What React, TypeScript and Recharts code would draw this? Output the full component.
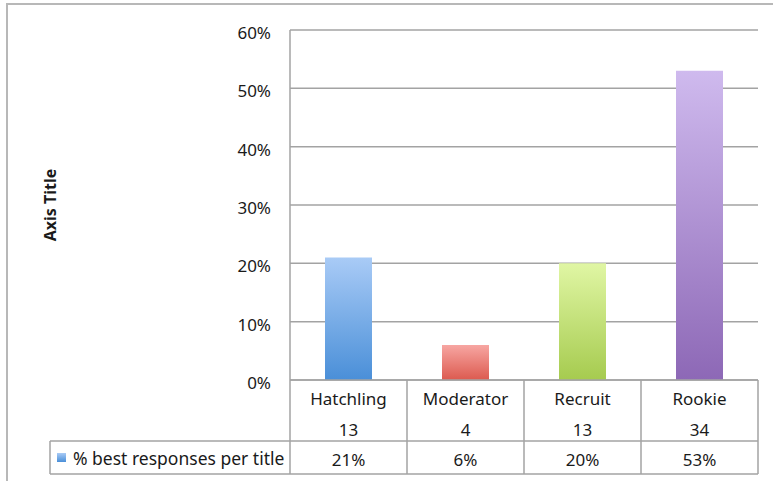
import { Bar, BarChart, CartesianGrid, Cell, XAxis, YAxis } from "recharts";

const categories = ["Hatchling", "Moderator", "Recruit", "Rookie"];
const counts = [13, 4, 13, 34];
const shares = [21, 6, 20, 53];
const seriesName = "% best responses per title";
const yTicks = [0, 10, 20, 30, 40, 50, 60];

const data = categories.map((name, i) => ({ name, count: counts[i], share: shares[i] }));

// top / bottom colours of each bar's gradient
const barColors = [
  ["#a9cbf6", "#4a8fd8"],
  ["#f7a6a2", "#dc5a4f"],
  ["#e0f6a4", "#a6cb4f"],
  ["#cfbaee", "#8d68b6"]
];

const W = 773;
const H = 481;
const margin = { top: 30, right: 15, bottom: 7, left: 20 };
const plotLeft = 290;
const band = (W - margin.right - plotLeft) / categories.length;
const lineColor = "#a3a3a3";
const font = "'Noto Sans', sans-serif";
const fs = 17;

function TableTick(props: any) {
  const { x, y, payload } = props;
  const i = payload.index;
  const row = data[i];
  const left = x - band / 2;
  const right = x + band / 2;
  return (
    <g fontFamily={font} fontSize={fs} fill="#1a1a1a">
      {i === 0 && (
        <g>
          <line x1={left} x2={left} y1={y} y2={y + 94} stroke={lineColor} strokeWidth={1.5} />
          <line x1={50} x2={left} y1={y + 61} y2={y + 61} stroke={lineColor} strokeWidth={1.5} />
          <line x1={50} x2={left} y1={y + 94} y2={y + 94} stroke={lineColor} strokeWidth={1.5} />
          <line x1={50} x2={50} y1={y + 61} y2={y + 94} stroke={lineColor} strokeWidth={1.5} />
          <rect x={57} y={y + 73} width={9} height={9} fill="url(#legendGrad)" />
          <text x={73} y={y + 78} dominantBaseline="central" fontSize={17.5} fill="#1a1a1a">
            {seriesName}
          </text>
        </g>
      )}
      <line x1={right} x2={right} y1={y} y2={y + 94} stroke={lineColor} strokeWidth={1.5} />
      <line x1={left} x2={right} y1={y + 61} y2={y + 61} stroke={lineColor} strokeWidth={1.5} />
      <line x1={left} x2={right} y1={y + 94} y2={y + 94} stroke={lineColor} strokeWidth={1.5} />
      <text x={x} y={y + 18} textAnchor="middle" dominantBaseline="central">
        {row.name}
      </text>
      <text x={x} y={y + 49} textAnchor="middle" dominantBaseline="central">
        {row.count}
      </text>
      <text x={x} y={y + 79} textAnchor="middle" dominantBaseline="central">
        {row.share}%
      </text>
    </g>
  );
}

function AxisTitle(props: any) {
  const vb = props.viewBox || {};
  const cy = (vb.y ?? 30) + (vb.height ?? 350) / 2;
  const cx = 50;
  return (
    <text
      x={cx}
      y={cy}
      transform={`rotate(-90 ${cx} ${cy})`}
      textAnchor="middle"
      dominantBaseline="central"
      fontFamily={font}
      fontSize={16}
      fontWeight="bold"
      fill="#1a1a1a"
    >
      Axis Title
    </text>
  );
}

export default function App() {
  return (
    <div style={{ position: "absolute", left: 0, top: 0, width: W, height: H, background: "#fff" }}>
      <div
        style={{
          position: "absolute",
          left: 6,
          top: 3,
          right: 0,
          bottom: 0,
          borderTop: "2px solid #b8b8b8",
          borderLeft: "2px solid #b8b8b8"
        }}
      />
      <div style={{ position: "absolute", left: 0, top: 0 }}>
        <BarChart width={W} height={H} data={data} margin={margin}>
          <defs>
            {barColors.map(([top, bottom], i) => (
              <linearGradient key={i} id={`barGrad${i}`} x1="0" y1="0" x2="0" y2="1">
                <stop offset="0%" stopColor={top} />
                <stop offset="100%" stopColor={bottom} />
              </linearGradient>
            ))}
            <linearGradient id="legendGrad" x1="0" y1="0" x2="0" y2="1">
              <stop offset="0%" stopColor={barColors[0][0]} />
              <stop offset="100%" stopColor={barColors[0][1]} />
            </linearGradient>
          </defs>
          <CartesianGrid vertical={false} stroke={lineColor} strokeWidth={1.5} />
          <XAxis
            dataKey="name"
            height={94}
            axisLine={{ stroke: lineColor, strokeWidth: 1.5 }}
            tickLine={false}
            tickSize={0}
            tickMargin={0}
            interval={0}
            tick={<TableTick />}
          />
          <YAxis
            width={plotLeft - margin.left}
            domain={[0, 60]}
            ticks={yTicks}
            tickFormatter={(v) => `${v}%`}
            axisLine={{ stroke: lineColor, strokeWidth: 1.5 }}
            tickLine={false}
            tickMargin={13}
            tick={{ fontFamily: font, fontSize: fs, fill: "#1a1a1a", dy: 3 }}
            label={{ content: <AxisTitle /> }}
          />
          <Bar dataKey="share" barSize={47} isAnimationActive={false}>
            {data.map((_, i) => (
              <Cell key={i} fill={`url(#barGrad${i})`} />
            ))}
          </Bar>
        </BarChart>
      </div>
    </div>
  );
}
